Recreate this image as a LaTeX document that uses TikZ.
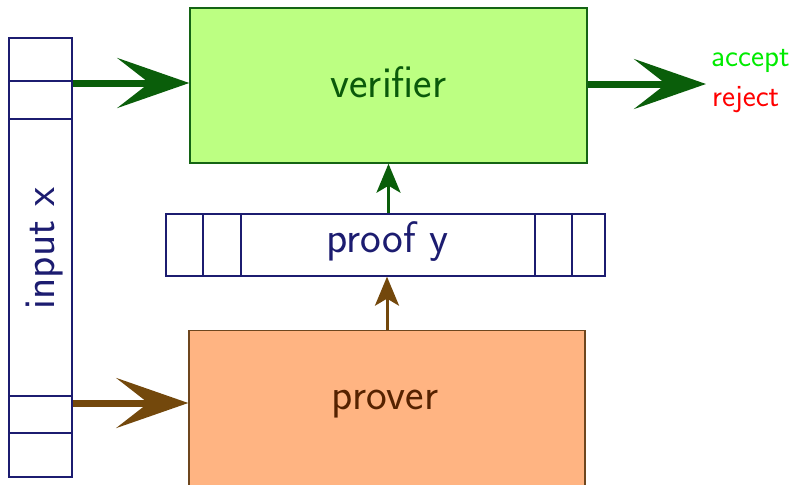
\documentclass[tikz,border=0pt]{standalone}
\usetikzlibrary{arrows.meta}
\definecolor{navy}{RGB}{28,28,112}
\definecolor{vfill}{RGB}{188,255,130}
\definecolor{vline}{RGB}{20,100,20}
\definecolor{vtext}{RGB}{10,90,10}
\definecolor{garrow}{RGB}{10,94,10}
\definecolor{pfill}{RGB}{255,180,130}
\definecolor{pline}{RGB}{110,70,30}
\definecolor{ptext}{RGB}{85,34,0}
\definecolor{barrow}{RGB}{115,72,12}
\definecolor{acc}{RGB}{0,235,0}
\definecolor{rej}{RGB}{255,0,0}
\tikzset{
  bigfont/.style={font=\sffamily\fontsize{44}{52}\selectfont, inner sep=0pt, anchor=base},
  smallfont/.style={font=\sffamily\fontsize{31}{37}\selectfont, inner sep=0pt, anchor=base west},
  tape/.style={draw=navy, line width=1.3pt, fill=white, inner sep=0pt},
  divider/.style={draw=navy, line width=1.3pt},
  machine/.style={rectangle, line width=1.4pt, inner sep=0pt},
  bigarrow/.style={line width=7pt, -{Stealth[length=72pt,width=50pt,inset=32pt]}},
  smallarrow/.style={line width=3pt, -{Stealth[length=29pt,width=24pt,inset=7pt]}},
}
\begin{document}
\begin{tikzpicture}[x=1pt,y=-1pt]
\useasboundingbox (0,0) rectangle (796,485);

% input tape
\node[tape, minimum width=63pt, minimum height=439pt] (input) at (40.5,257.5) {};
\node[bigfont, text=navy, rotate=90] (inputlabel) at (54,248.5) {input x};
\foreach \yy in {81,119,396,433}
  \draw[divider] (input.west |- 0,\yy) -- (input.east |- 0,\yy);

% verifier
\node[machine, draw=vline, fill=vfill, minimum width=397pt, minimum height=155pt]
  (verifier) at (388.5,85.5) {};
\node[bigfont, text=vtext] (verifierlabel) at (388.5,97) {verifier};

% proof tape
\node[tape, minimum width=439pt, minimum height=62pt] (proof) at (385.5,245) {};
\node[bigfont, text=navy] (prooflabel) at (387.5,252) {proof y};
\foreach \xx in {203,241,535,572}
  \draw[divider] (\xx,0 |- proof.north) -- (\xx,0 |- proof.south);

% prover, running past the lower edge
\begin{scope}
  \clip (0,0) rectangle (796,485);
  \node[machine, draw=pline, fill=pfill, minimum width=396pt, minimum height=190pt,
        anchor=north] (prover) at (387,330) {};
\end{scope}
\node[bigfont, text=ptext] (proverlabel) at (385,409) {prover};

% outcomes
\node[smallfont, text=acc] (accept) at (711,66) {accept};
\node[smallfont, text=rej] (reject) at (712,106.5) {reject};
\coordinate (outtip) at (706,84);

% connectors
\draw[bigarrow, garrow] (input.east |- 0,83) -- (verifier.west |- 0,83);
\draw[bigarrow, garrow] (verifier.east |- outtip) -- (outtip);
\draw[bigarrow, barrow] (input.east |- 0,403) -- (prover.west |- 0,403);
\draw[smallarrow, garrow] (proof.north -| verifier.south) -- (verifier.south);
\draw[smallarrow, barrow] (prover.north) -- (proof.south -| prover.north);
\end{tikzpicture}
\end{document}
